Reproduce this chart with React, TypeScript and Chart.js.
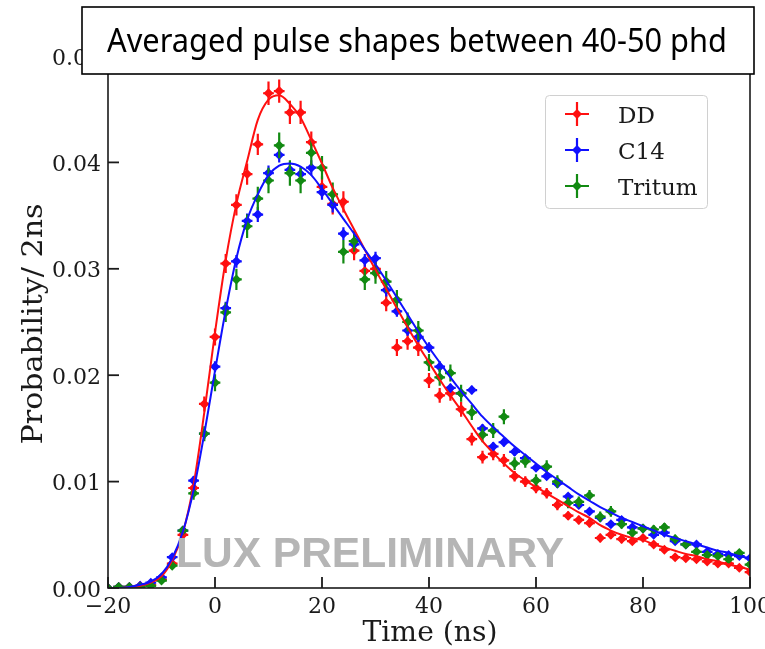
import { useEffect, useRef } from "react";
import { Chart, registerables } from "chart.js";

Chart.register(...registerables);

// ---------------- data ----------------
const TIME = [-20, -18, -16, -14, -12, -10, -8, -6, -4, -2, 0, 2, 4, 6, 8, 10, 12, 14, 16, 18, 20, 22, 24, 26, 28, 30, 32, 34, 36, 38, 40, 42, 44, 46, 48, 50, 52, 54, 56, 58, 60, 62, 64, 66, 68, 70, 72, 74, 76, 78, 80, 82, 84, 86, 88, 90, 92, 94, 96, 98, 100];

const DD = [
  0.0000, 0.0001, 0.0001, 0.0002, 0.0003, 0.0008, 0.0023, 0.0050, 0.0094, 0.0173,
  0.0236, 0.0305, 0.0360, 0.0389, 0.0417, 0.0465, 0.0467, 0.0447, 0.0447, 0.0419,
  0.0377, 0.0361, 0.0363, 0.0317, 0.0298, 0.0300, 0.0268, 0.0226, 0.0232, 0.0226,
  0.0195, 0.0181, 0.0183, 0.0168, 0.0140, 0.0123, 0.0126, 0.0120, 0.0105, 0.0100,
  0.0094, 0.0089, 0.0078, 0.0068, 0.0064, 0.0061, 0.0047, 0.0050, 0.0046, 0.0044,
  0.0047, 0.0041, 0.0036, 0.0029, 0.0028, 0.0027, 0.0025, 0.0023, 0.0023, 0.0019,
  0.0015,
];
const DD_ERR = [
  0.0001, 0.0001, 0.0001, 0.0001, 0.0001, 0.0002, 0.0003, 0.0004, 0.0005, 0.0007,
  0.0008, 0.0009, 0.0010, 0.0010, 0.0010, 0.0011, 0.0011, 0.0011, 0.0011, 0.0010,
  0.0010, 0.0010, 0.0010, 0.0009, 0.0009, 0.0009, 0.0008, 0.0008, 0.0008, 0.0008,
  0.0007, 0.0007, 0.0007, 0.0007, 0.0006, 0.0006, 0.0006, 0.0006, 0.0005, 0.0005,
  0.0005, 0.0005, 0.0005, 0.0004, 0.0004, 0.0004, 0.0004, 0.0004, 0.0004, 0.0003,
  0.0003, 0.0003, 0.0003, 0.0003, 0.0003, 0.0003, 0.0003, 0.0003, 0.0003, 0.0003,
  0.0002,
];
const C14 = [
  0.0000, 0.0001, 0.0001, 0.0002, 0.0005, 0.0010, 0.0029, 0.0054, 0.0101, 0.0145,
  0.0208, 0.0263, 0.0307, 0.0345, 0.0351, 0.0390, 0.0407, 0.0393, 0.0389, 0.0395,
  0.0372, 0.0360, 0.0333, 0.0323, 0.0308, 0.0310, 0.0280, 0.0260, 0.0242, 0.0236,
  0.0226, 0.0208, 0.0188, 0.0183, 0.0186, 0.0150, 0.0133, 0.0137, 0.0128, 0.0122,
  0.0113, 0.0105, 0.0098, 0.0086, 0.0078, 0.0072, 0.0066, 0.0060, 0.0064, 0.0057,
  0.0056, 0.0050, 0.0052, 0.0044, 0.0041, 0.0041, 0.0034, 0.0032, 0.0031, 0.0030,
  0.0028,
];
const C14_ERR = [
  0.0001, 0.0001, 0.0001, 0.0001, 0.0001, 0.0001, 0.0002, 0.0003, 0.0004, 0.0005,
  0.0005, 0.0006, 0.0006, 0.0007, 0.0007, 0.0007, 0.0007, 0.0007, 0.0007, 0.0007,
  0.0007, 0.0007, 0.0006, 0.0006, 0.0006, 0.0006, 0.0006, 0.0005, 0.0005, 0.0005,
  0.0005, 0.0005, 0.0004, 0.0004, 0.0004, 0.0004, 0.0004, 0.0004, 0.0004, 0.0003,
  0.0003, 0.0003, 0.0003, 0.0003, 0.0003, 0.0003, 0.0003, 0.0003, 0.0003, 0.0003,
  0.0003, 0.0003, 0.0002, 0.0002, 0.0002, 0.0002, 0.0002, 0.0002, 0.0002, 0.0002,
  0.0002,
];
const TRITUM = [
  0.0000, 0.0001, 0.0001, 0.0001, 0.0002, 0.0007, 0.0021, 0.0054, 0.0089, 0.0145,
  0.0193, 0.0259, 0.0290, 0.0340, 0.0366, 0.0383, 0.0416, 0.0390, 0.0383, 0.0409,
  0.0395, 0.0370, 0.0316, 0.0326, 0.0290, 0.0296, 0.0288, 0.0271, 0.0250, 0.0242,
  0.0212, 0.0198, 0.0202, 0.0183, 0.0165, 0.0144, 0.0148, 0.0161, 0.0117, 0.0119,
  0.0101, 0.0114, 0.0100, 0.0080, 0.0081, 0.0087, 0.0067, 0.0072, 0.0060, 0.0052,
  0.0056, 0.0055, 0.0057, 0.0046, 0.0041, 0.0034, 0.0031, 0.0030, 0.0027, 0.0033,
  0.0022,
];
const TRITUM_ERR = [
  0.0001, 0.0001, 0.0001, 0.0001, 0.0001, 0.0002, 0.0003, 0.0004, 0.0006, 0.0007,
  0.0008, 0.0009, 0.0010, 0.0011, 0.0011, 0.0012, 0.0012, 0.0012, 0.0012, 0.0012,
  0.0011, 0.0011, 0.0011, 0.0010, 0.0010, 0.0010, 0.0010, 0.0009, 0.0009, 0.0009,
  0.0008, 0.0008, 0.0008, 0.0008, 0.0007, 0.0007, 0.0007, 0.0007, 0.0006, 0.0006,
  0.0006, 0.0006, 0.0006, 0.0005, 0.0005, 0.0005, 0.0005, 0.0005, 0.0004, 0.0004,
  0.0004, 0.0004, 0.0004, 0.0004, 0.0003, 0.0003, 0.0003, 0.0003, 0.0003, 0.0003,
  0.0003,
];
const DD_FIT = [
  0.0000, 0.0000, 0.0001, 0.0002, 0.0005, 0.0011, 0.0026, 0.0052, 0.0097, 0.0165,
  0.0240, 0.0308, 0.0361, 0.0401, 0.0440, 0.0459, 0.0463, 0.0455, 0.0442, 0.0421,
  0.0399, 0.0376, 0.0356, 0.0337, 0.0318, 0.0299, 0.0281, 0.0263, 0.0245, 0.0228,
  0.0212, 0.0196, 0.0181, 0.0167, 0.0152, 0.0138, 0.0127, 0.0117, 0.0108, 0.0101,
  0.0095, 0.0089, 0.0083, 0.0077, 0.0071, 0.0066, 0.0059, 0.0054, 0.0050, 0.0047,
  0.0045, 0.0041, 0.0038, 0.0035, 0.0032, 0.0030, 0.0027, 0.0025, 0.0022, 0.0020,
  0.0017,
];
const C14_FIT = [
  0.0000, 0.0000, 0.0001, 0.0003, 0.0006, 0.0013, 0.0028, 0.0053, 0.0092, 0.0145,
  0.0204, 0.0261, 0.0310, 0.0346, 0.0370, 0.0388, 0.0397, 0.0399, 0.0396, 0.0388,
  0.0375, 0.0361, 0.0347, 0.0333, 0.0318, 0.0304, 0.0289, 0.0273, 0.0257, 0.0241,
  0.0226, 0.0212, 0.0198, 0.0185, 0.0173, 0.0161, 0.0151, 0.0142, 0.0133, 0.0125,
  0.0117, 0.0109, 0.0102, 0.0095, 0.0088, 0.0082, 0.0076, 0.0071, 0.0066, 0.0062,
  0.0058, 0.0054, 0.0050, 0.0047, 0.0044, 0.0041, 0.0038, 0.0035, 0.0033, 0.0030,
  0.0028,
];
const TIME_HALF_BIN = 1; // horizontal error bar (ns)

const X_TICKS = [-20, 0, 20, 40, 60, 80, 100];
const X_TICK_LABELS = ["\u221220", "0", "20", "40", "60", "80", "100"];
const Y_TICKS = [0, 0.01, 0.02, 0.03, 0.04, 0.05];
const Y_TICK_LABELS = ["0.00", "0.01", "0.02", "0.03", "0.04", "0.05"];
const SERIES_NAMES = ["DD", "C14", "Tritum"];
const TITLE = "Averaged pulse shapes between 40-50 phd";
const X_LABEL = "Time (ns)";
const Y_LABEL = "Probability/ 2ns";
const WATERMARK = "LUX PRELIMINARY";

// ---------------- styles ----------------
const RED = "#ff1010";
const BLUE = "#1010ff";
const GREEN = "#128a12";
const SERIF = "'DejaVu Serif', serif";
const INK = "#1a1a1a";

function pts(ys: number[]) {
  return TIME.map((t, i) => ({ x: t, y: ys[i] }));
}

function drawText(
  ctx: CanvasRenderingContext2D,
  text: string,
  x: number,
  y: number,
  font: string,
  color: string,
  align: CanvasTextAlign,
  targetWidth?: number,
) {
  ctx.save();
  ctx.font = font;
  ctx.fillStyle = color;
  ctx.textBaseline = "alphabetic";
  let sx = 1;
  if (targetWidth) {
    const w = ctx.measureText(text).width;
    if (w > 0) sx = targetWidth / w;
  }
  ctx.translate(x, y);
  ctx.scale(sx, 1);
  ctx.textAlign = align;
  ctx.fillText(text, 0, 0);
  ctx.restore();
}

const errorBarPlugin = {
  id: "errorBars",
  beforeDatasetDraw(chart: any, args: any) {
    const ds = chart.data.datasets[args.index];
    if (!ds.errY) return;
    const { ctx, chartArea, scales } = chart;
    const xs = scales.x;
    const ys = scales.y;
    ctx.save();
    ctx.beginPath();
    ctx.rect(chartArea.left, chartArea.top, chartArea.right - chartArea.left, chartArea.bottom - chartArea.top);
    ctx.clip();
    ctx.strokeStyle = ds.borderColor;
    ctx.lineWidth = 2.2;
    ds.data.forEach((p: any, i: number) => {
      const e = ds.errY[i];
      const px = xs.getPixelForValue(p.x);
      const py = ys.getPixelForValue(p.y);
      ctx.beginPath();
      ctx.moveTo(px, ys.getPixelForValue(p.y - e));
      ctx.lineTo(px, ys.getPixelForValue(p.y + e));
      ctx.moveTo(xs.getPixelForValue(p.x - ds.errX), py);
      ctx.lineTo(xs.getPixelForValue(p.x + ds.errX), py);
      ctx.stroke();
    });
    ctx.restore();
  },
};

const decorPlugin = {
  id: "decor",
  afterDatasetsDraw(chart: any) {
    const { ctx, chartArea } = chart;
    const { left, right, top, bottom } = chartArea;
    // watermark
    drawText(ctx, WATERMARK, 370, 567, "bold 42px 'Liberation Sans', Arial, sans-serif", "#b5b5b5", "center", 388);
    // spines
    ctx.save();
    ctx.strokeStyle = INK;
    ctx.lineWidth = 1.6;
    ctx.strokeRect(left, top, right - left, bottom - top);
    // ticks (inward)
    ctx.lineWidth = 1.8;
    const xs = chart.scales.x;
    const ys = chart.scales.y;
    X_TICKS.forEach((t) => {
      const px = xs.getPixelForValue(t);
      ctx.beginPath();
      ctx.moveTo(px, bottom);
      ctx.lineTo(px, bottom - 11);
      ctx.stroke();
    });
    Y_TICKS.forEach((v) => {
      const py = ys.getPixelForValue(v);
      ctx.beginPath();
      ctx.moveTo(left, py);
      ctx.lineTo(left + 11, py);
      ctx.stroke();
    });
    ctx.restore();
    // tick labels
    Y_TICKS.forEach((v, i) => {
      const py = ys.getPixelForValue(v);
      drawText(ctx, Y_TICK_LABELS[i], 101, py + 8.5, `22px ${SERIF}`, INK, "right");
    });
    X_TICKS.forEach((t, i) => {
      const px = xs.getPixelForValue(t);
      drawText(ctx, X_TICK_LABELS[i], px, 613, `22px ${SERIF}`, INK, "center");
    });
    // axis titles
    drawText(ctx, X_LABEL, 430, 641, `28px ${SERIF}`, INK, "center", 135);
    ctx.save();
    ctx.translate(42, 324);
    ctx.rotate(-Math.PI / 2);
    drawText(ctx, Y_LABEL, 0, 0, `28px ${SERIF}`, INK, "center", 241);
    ctx.restore();

    // legend
    ctx.save();
    const lx = 545, ly = 95, lw = 162, lh = 113;
    ctx.fillStyle = "rgba(255,255,255,0.9)";
    ctx.strokeStyle = "#d0d0d0";
    ctx.lineWidth = 1;
    ctx.beginPath();
    (ctx as any).roundRect(lx + 0.5, ly + 0.5, lw, lh, 4);
    ctx.fill();
    ctx.stroke();
    ctx.restore();
    const colors = [RED, BLUE, GREEN];
    const rows = [114, 150, 186];
    SERIES_NAMES.forEach((name, i) => {
      const cx = 577, cy = rows[i];
      ctx.save();
      ctx.strokeStyle = colors[i];
      ctx.fillStyle = colors[i];
      ctx.lineWidth = 2.2;
      ctx.beginPath();
      ctx.moveTo(cx, cy - 12);
      ctx.lineTo(cx, cy + 12);
      ctx.moveTo(cx - 12, cy);
      ctx.lineTo(cx + 12, cy);
      ctx.stroke();
      ctx.beginPath();
      ctx.moveTo(cx, cy - 5);
      ctx.lineTo(cx + 5, cy);
      ctx.lineTo(cx, cy + 5);
      ctx.lineTo(cx - 5, cy);
      ctx.closePath();
      ctx.fill();
      ctx.restore();
      drawText(ctx, name, 618, cy + 8.5, `23px ${SERIF}`, INK, "left");
    });

    // title box
    ctx.save();
    ctx.fillStyle = "#ffffff";
    ctx.fillRect(82, 7, 672, 67);
    ctx.strokeStyle = "#000000";
    ctx.lineWidth = 1.6;
    ctx.strokeRect(82, 7, 672, 67);
    ctx.restore();
    drawText(ctx, TITLE, 417, 52, "32px 'Noto Sans', 'Open Sans', sans-serif", "#000000", "center", 620);
  },
};

export default function App() {
  const ref = useRef<HTMLCanvasElement | null>(null);
  useEffect(() => {
    document.body.style.margin = "0";
    const canvas = ref.current;
    if (!canvas) return;
    const pointSet = (label: string, ys: number[], err: number[], color: string) => ({
      label,
      data: pts(ys),
      showLine: false,
      pointStyle: "rectRot",
      pointRadius: 5,
      pointBackgroundColor: color,
      pointBorderColor: color,
      pointBorderWidth: 0,
      borderColor: color,
      backgroundColor: color,
      errY: err,
      errX: TIME_HALF_BIN,
      clip: 0,
    });
    const fitSet = (label: string, ys: number[], color: string) => ({
      label,
      data: pts(ys),
      showLine: true,
      borderColor: color,
      backgroundColor: color,
      borderWidth: 2,
      pointRadius: 0,
      cubicInterpolationMode: "monotone",
      fill: false,
      clip: 0,
    });
    const chart = new Chart(canvas, {
      type: "scatter",
      data: {
        datasets: [
          fitSet("C14 fit", C14_FIT, BLUE),
          fitSet("DD fit", DD_FIT, RED),
          pointSet(SERIES_NAMES[2], TRITUM, TRITUM_ERR, GREEN),
          pointSet(SERIES_NAMES[1], C14, C14_ERR, BLUE),
          pointSet(SERIES_NAMES[0], DD, DD_ERR, RED),
        ] as any,
      },
      options: {
        animation: false,
        responsive: false,
        devicePixelRatio: 1,
        layout: { padding: { left: 108, right: 15, top: 56, bottom: 61 } },
        scales: {
          x: { type: "linear", min: -20, max: 100, display: false },
          y: { type: "linear", min: 0, max: 0.05, display: false },
        },
        plugins: {
          legend: { display: false },
          tooltip: { enabled: false },
          title: { display: false },
        },
        events: [],
      },
      plugins: [errorBarPlugin, decorPlugin],
    });
    return () => chart.destroy();
  }, []);
  return (
    <div style={{ width: 765, height: 649, background: "#fff" }}>
      <canvas ref={ref} width={765} height={649} style={{ display: "block" }} />
    </div>
  );
}
